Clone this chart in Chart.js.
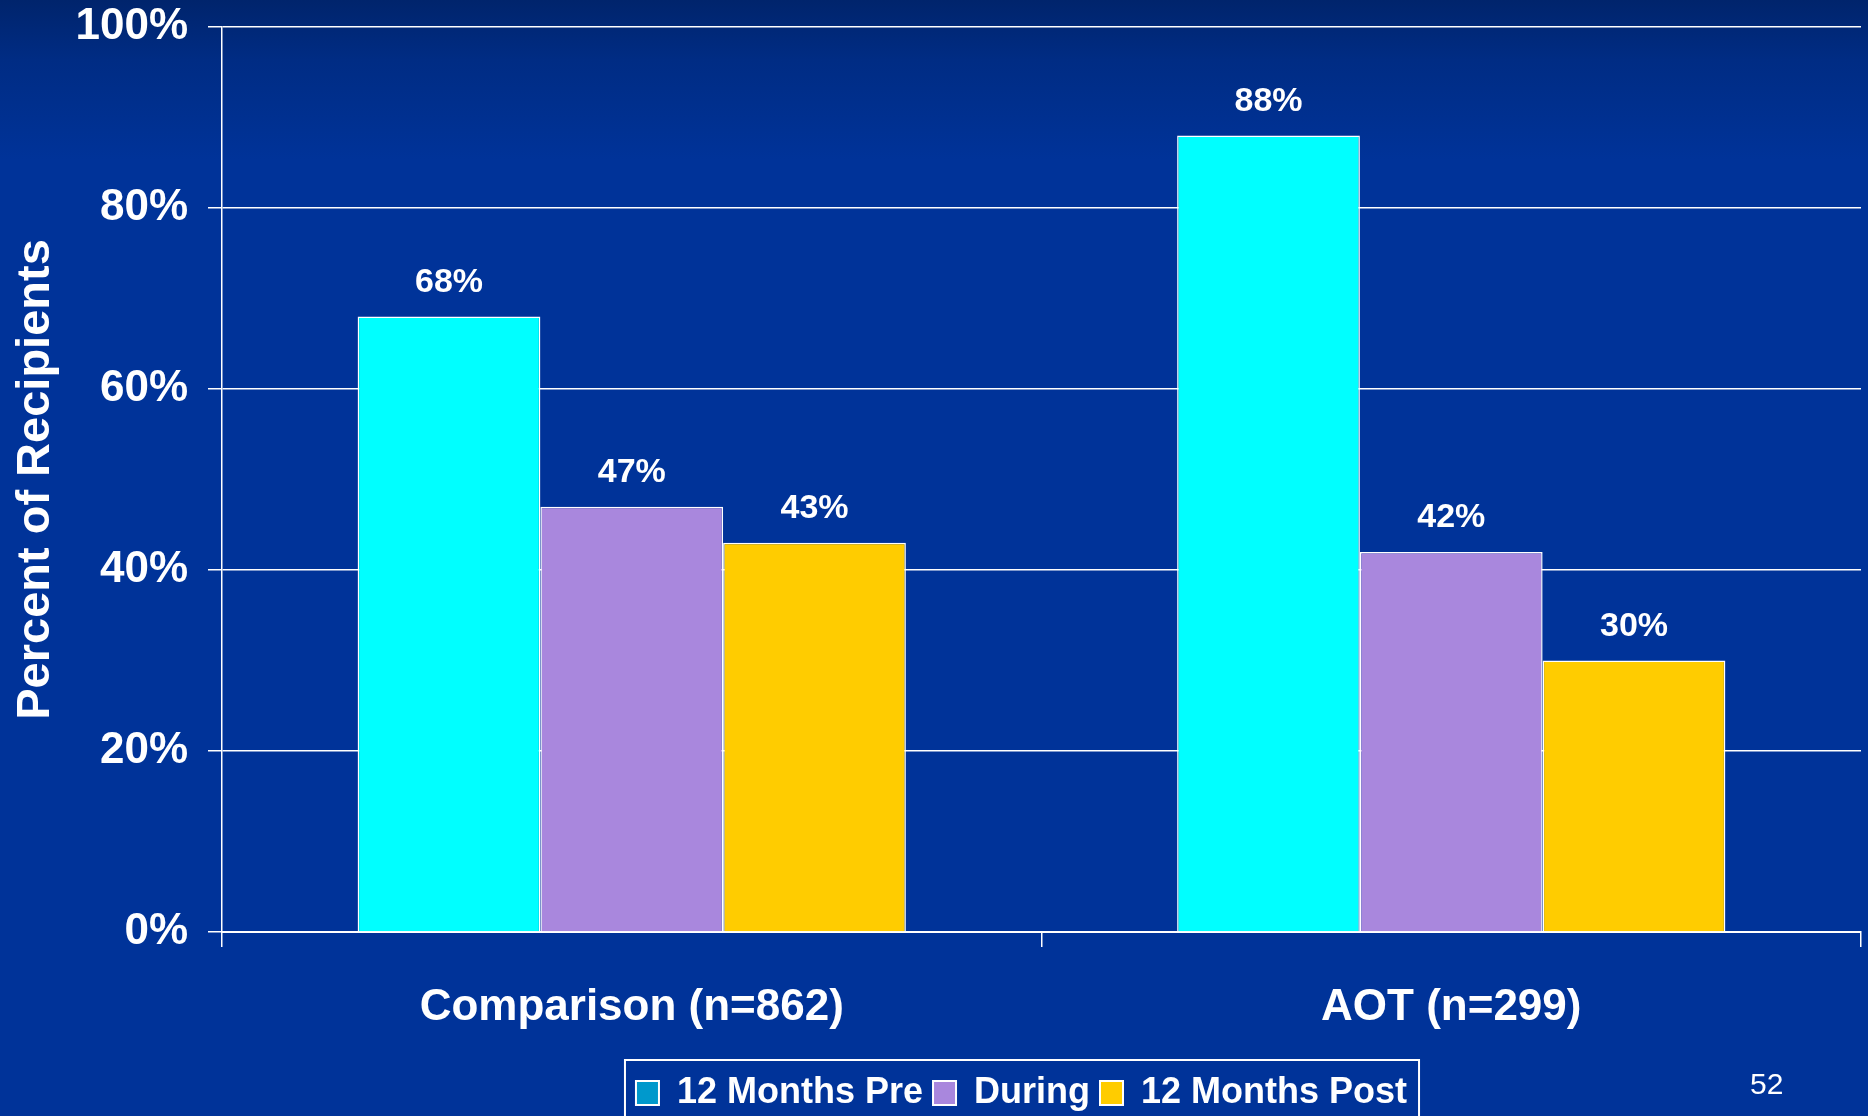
<!DOCTYPE html>
<html>
<head>
<meta charset="utf-8">
<title>Percent of Recipients</title>
<script src="https://cdn.jsdelivr.net/npm/chart.js@4.4.1/dist/chart.umd.min.js"></script>
<style>
  html, body { margin: 0; padding: 0; }
  body {
    width: 1868px; height: 1116px; overflow: hidden; position: relative;
    background: linear-gradient(to bottom, #00246c 0px, #002c84 60px, #003399 160px, #003399 1116px);
    font-family: "Liberation Sans", Arial, sans-serif;
  }
  #chart { position: absolute; left: 0; top: 0; }
  .page-num {
    position: absolute; left: 1750px; top: 1068px;
    color: #fff; font-size: 30px; line-height: 32px;
  }
</style>
</head>
<body>
<canvas id="chart" width="1868" height="1116"></canvas>
<div class="page-num">52</div>
<script>
// data
const categories = ['Comparison (n=862)', 'AOT (n=299)'];
const seriesNames = ['12 Months Pre', 'During', '12 Months Post'];
const preValues = [68, 88];
const duringValues = [47, 42];
const postValues = [43, 30];
const yTicks = [0, 20, 40, 60, 80, 100];

const barColors = ['#00ffff', '#a987dd', '#ffcc00'];
const legendColors = ['#0099cc', '#a987dd', '#ffcc00'];
const FONT = '"Liberation Sans", Arial, sans-serif';

// value labels above each bar
const valueLabels = {
  id: 'valueLabels',
  afterDatasetsDraw(chart) {
    const ctx = chart.ctx;
    ctx.save();
    ctx.fillStyle = '#fff';
    ctx.font = 'bold 34px ' + FONT;
    ctx.textAlign = 'center';
    ctx.textBaseline = 'alphabetic';
    chart.data.datasets.forEach((ds, i) => {
      chart.getDatasetMeta(i).data.forEach((bar, j) => {
        ctx.fillText(ds.data[j] + '%', bar.x, bar.y - 25);
      });
    });
    ctx.restore();
  }
};

// nudge the legend a bit left of the plot centre, as on the slide
const legendShift = {
  id: 'legendShift',
  afterLayout(chart) {
    const lg = chart.legend;
    if (!lg) return;
    lg.left -= 20;
    lg.right -= 20;
  }
};

// white frame around the legend (runs off the bottom edge)
const legendFrame = {
  id: 'legendFrame',
  afterDraw(chart) {
    const lg = chart.legend;
    if (!lg || !lg.legendHitBoxes.length) return;
    const boxes = lg.legendHitBoxes;
    const x0 = boxes[0].left - 11;
    const last = boxes[boxes.length - 1];
    const x1 = last.left + last.width + 12;
    const ctx = chart.ctx;
    ctx.save();
    ctx.strokeStyle = '#fff';
    ctx.lineWidth = 2;
    ctx.strokeRect(x0, lg.top - 5, x1 - x0, 90);
    ctx.restore();
  }
};

new Chart(document.getElementById('chart'), {
  type: 'bar',
  data: {
    labels: categories,
    datasets: [preValues, duringValues, postValues].map((vals, i) => ({
      label: seriesNames[i],
      data: vals,
      backgroundColor: barColors[i],
      borderColor: '#fff',
      borderWidth: 1.5,
      categoryPercentage: 0.669,
      barPercentage: 1.0
    }))
  },
  options: {
    responsive: false,
    animation: false,
    devicePixelRatio: 1,
    layout: { padding: { top: 27, right: 7, left: 0, bottom: -5 } },
    plugins: {
      tooltip: { enabled: false },
      legend: {
        position: 'bottom',
        fullSize: false,
        labels: {
          color: '#fff',
          font: { family: FONT, size: 36, weight: 'bold' },
          boxWidth: 23,
          boxHeight: 24,
          padding: 10,
          generateLabels(chart) {
            return Chart.defaults.plugins.legend.labels.generateLabels(chart).map((item, i) => {
              item.fillStyle = legendColors[i];
              item.strokeStyle = '#fff';
              item.lineWidth = 2;
              return item;
            });
          }
        }
      }
    },
    scales: {
      x: {
        afterFit(scale) { scale.height = 133; },
        border: { display: true, color: '#fff', width: 2 },
        grid: { drawOnChartArea: false, drawTicks: true, tickLength: 15, color: '#fff', lineWidth: 1.5 },
        ticks: { color: '#fff', padding: 34, font: { family: FONT, size: 44, weight: 'bold' } }
      },
      y: {
        min: 0,
        max: 100,
        afterFit(scale) {
          scale.width = 222;
          scale.paddingTop = 0;
          scale.paddingBottom = 0;
        },
        afterBuildTicks(scale) { scale.ticks = yTicks.map(v => ({ value: v })); },
        border: { display: true, color: '#fff', width: 1.5 },
        grid: { color: '#fff', lineWidth: 1.5, tickLength: 14 },
        ticks: {
          color: '#fff',
          padding: 20,
          font: { family: FONT, size: 44, weight: 'bold' },
          callback: v => v + '%'
        },
        title: {
          display: true,
          text: 'Percent of Recipients',
          color: '#fff',
          padding: { top: 8, bottom: 0 },
          font: { family: FONT, size: 47, weight: 'bold' }
        }
      }
    }
  },
  plugins: [valueLabels, legendShift, legendFrame]
});
</script>
</body>
</html>
